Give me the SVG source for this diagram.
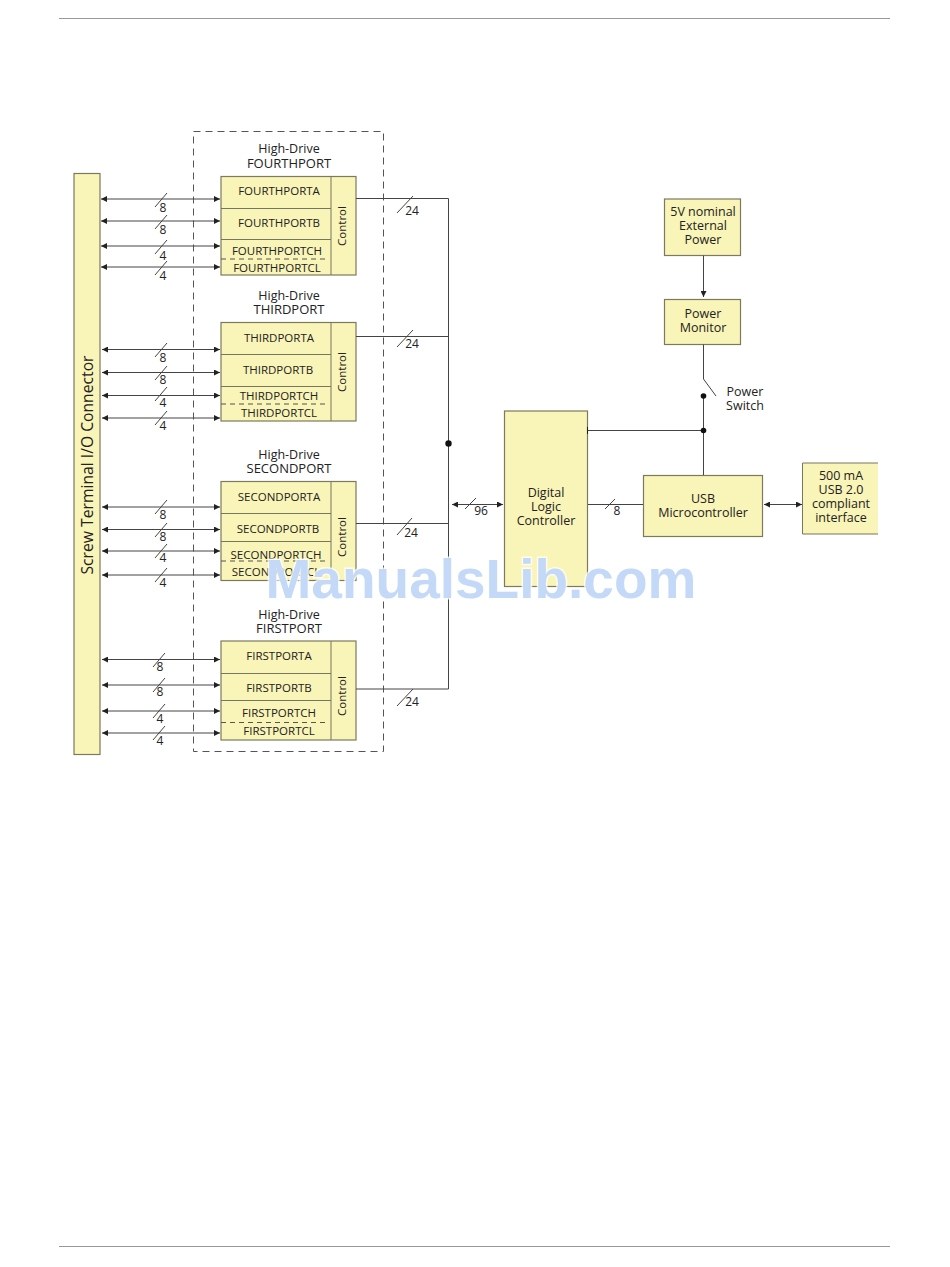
<svg xmlns="http://www.w3.org/2000/svg" width="950" height="1267" viewBox="0 0 950 1267">
<style>
text{font-family:"Open Sans","Noto Sans","Liberation Sans",sans-serif;fill:#222;text-anchor:middle}
.t{font-size:12.5px}
.h{font-size:13px}
.p{font-size:11.500px}
.n{font-size:12px}
.b{fill:#f9f4b8;stroke:#7c7a5c;stroke-width:1.2}
.l{fill:none;stroke:#77765f;stroke-width:1}
.d{fill:none;stroke:#555;stroke-width:1;stroke-dasharray:5 4}
.c{fill:none;stroke:#444;stroke-width:1}
.a{marker-start:url(#s);marker-end:url(#e)}
.rule{stroke:#999;stroke-width:1.2}
</style>
<defs>
<marker id="e" markerUnits="userSpaceOnUse" markerWidth="7" markerHeight="6" refX="6" refY="3" orient="auto"><path d="M0 0L6 3L0 6z" fill="#222"/></marker>
<marker id="s" markerUnits="userSpaceOnUse" markerWidth="7" markerHeight="6" refX="0" refY="3" orient="auto"><path d="M6 0L0 3L6 6z" fill="#222"/></marker>
</defs>
<line class="rule" x1="59" y1="18.5" x2="890" y2="18.5"/>
<line class="rule" x1="59" y1="1246.5" x2="890" y2="1246.5"/>
<rect x="193.5" y="131.5" width="190" height="620" fill="none" stroke="#555" stroke-width="1" stroke-dasharray="7 5"/>

<g id="connector"><rect class="b" x="74" y="173.5" width="26" height="581"/><text transform="translate(93 465) rotate(-90)" font-size="15.7">Screw Terminal I/O Connector</text></g>

<g id="port4">
<text class="t" x="289" y="153">High-Drive</text><text class="h" x="289" y="167.500">FOURTHPORT</text>
<rect class="b" x="221" y="176.5" width="135" height="98.5"/>
<path class="l" d="M331 176.5V275M221 208.5H331M221 239.5H331"/><path class="d" d="M221 259H328"/>
<text class="p" x="279" y="195">FOURTHPORTA</text><text class="p" x="279" y="227">FOURTHPORTB</text><text class="p" x="277" y="255">FOURTHPORTCH</text><text class="p" x="277" y="272">FOURTHPORTCL</text>
<text class="p" transform="translate(346 226) rotate(-90)">Control</text>
</g>
<g id="port3">
<text class="t" x="289" y="299.500">High-Drive</text><text class="h" x="289" y="314">THIRDPORT</text>
<rect class="b" x="221" y="322.5" width="135" height="98.5"/>
<path class="l" d="M331 322.5V421M221 354.5H331M221 386.5H331"/><path class="d" d="M221 404H328"/>
<text class="p" x="279" y="342">THIRDPORTA</text><text class="p" x="278" y="374">THIRDPORTB</text><text class="p" x="279" y="400">THIRDPORTCH</text><text class="p" x="279" y="417">THIRDPORTCL</text>
<text class="p" transform="translate(346 372) rotate(-90)">Control</text>
</g>
<g id="port2">
<text class="t" x="289" y="458.500">High-Drive</text><text class="h" x="289" y="473">SECONDPORT</text>
<rect class="b" x="221" y="481.5" width="135" height="99"/>
<path class="l" d="M331 481.5V580.5M221 513.5H331M221 541.5H331"/><path class="d" d="M221 561H328"/>
<text class="p" x="279" y="501">SECONDPORTA</text><text class="p" x="278" y="533">SECONDPORTB</text><text class="p" x="276" y="559">SECONDPORTCH</text><text class="p" x="276" y="575.500">SECONDPORTCL</text>
<text class="p" transform="translate(346 537) rotate(-90)">Control</text>
</g>
<g id="port1">
<text class="t" x="289" y="618.500">High-Drive</text><text class="h" x="289" y="632.500">FIRSTPORT</text>
<rect class="b" x="221" y="641" width="135" height="99"/>
<path class="l" d="M331 641V740M221 673.5H331M221 700.5H331"/><path class="d" d="M221 722.5H328"/>
<text class="p" x="279" y="660">FIRSTPORTA</text><text class="p" x="279" y="692">FIRSTPORTB</text><text class="p" x="279" y="717">FIRSTPORTCH</text><text class="p" x="279" y="735">FIRSTPORTCL</text>
<text class="p" transform="translate(346 696) rotate(-90)">Control</text>
</g>

<g id="dlc"><rect class="b" x="504.5" y="411" width="83" height="175.5"/><text class="t" x="546" y="497">Digital</text><text class="t" x="546" y="511">Logic</text><text class="t" x="546" y="525">Controller</text></g>
<g id="ext"><rect class="b" x="664.5" y="199" width="76" height="56.5"/><text class="t" x="703" y="216">5V nominal</text><text class="t" x="703" y="230">External</text><text class="t" x="703" y="244">Power</text></g>
<g id="mon"><rect class="b" x="664.5" y="299.5" width="76" height="45"/><text class="t" x="703" y="318">Power</text><text class="t" x="703" y="332">Monitor</text></g>
<g id="usb"><rect class="b" x="643.5" y="475.5" width="119" height="61"/><text class="t" x="703" y="503">USB</text><text class="t" x="703" y="517">Microcontroller</text></g>
<g id="iface"><path d="M802.500 463H878V534H802.500z" fill="#f9f4b8" stroke="none"/><path class="l" d="M878 463H802.500V534H878"/><text class="t" x="841" y="480">500 mA</text><text class="t" x="841" y="494">USB 2.0</text><text class="t" x="841" y="508">compliant</text><text class="t" x="841" y="522">interface</text></g>

<g id="connectors">
<path class="c a" d="M101 199H220"/><path class="c a" d="M101 221H220"/><path class="c a" d="M101 246H220"/><path class="c a" d="M101 267H220"/>
<path class="c a" d="M102 349.500H220"/><path class="c a" d="M102 372.500H220"/><path class="c a" d="M102 395.500H220"/><path class="c a" d="M102 418H220"/>
<path class="c a" d="M102 507H220"/><path class="c a" d="M102 529.500H220"/><path class="c a" d="M102 551H220"/><path class="c a" d="M102 575H220"/>
<path class="c a" d="M102 659.500H220"/><path class="c a" d="M102 685H220"/><path class="c a" d="M102 711H220"/><path class="c a" d="M102 733H220"/>
<path class="c" d="M155 207L167 193M155 229L167 215M155 254L167 240M155 275L167 261M155 357L167 343M155 380L167 366M155 401L167 387M155 425L167 411M155 514L167 500M155 537L167 523M155 558L167 544M155 582L167 568M153 667L165 653M153 692L165 678M153 718L165 704M153 740L165 726"/>
<path class="c" d="M356 198.500H448.500V689H356M356 336.500H448.500M356 523.500H448.500"/>
<path class="c" d="M397 213L413 196M397 347L413 330M397 535L412 518M397 706L413 689"/>
<circle cx="448.500" cy="443.500" r="3.200" fill="#111"/>
<path class="c a" d="M452 504.500H503"/><path class="c" d="M465 509L476 498"/>
<path class="c" d="M588 504.500H643"/><path class="c" d="M605 509L615 499"/>
<path class="c a" d="M764 504.500H802"/>
<path class="c" d="M703.500 255.500V297" marker-end="url(#e)"/>
<path class="c" d="M703.500 344.500V379L716 396M703.500 396V475M588 430.500H703.500"/>
<path d="M587.500 427V434" stroke="#222" fill="none"/>
<circle cx="703.500" cy="396" r="2.800" fill="#111"/><circle cx="703.500" cy="430.500" r="2.800" fill="#111"/>
</g>
<g id="labels">
<text class="n" x="163" y="212">8</text><text class="n" x="163" y="234">8</text><text class="n" x="163" y="260">4</text><text class="n" x="163" y="280">4</text>
<text class="n" x="163" y="362">8</text><text class="n" x="163" y="384">8</text><text class="n" x="163" y="407">4</text><text class="n" x="163" y="430">4</text>
<text class="n" x="163" y="519">8</text><text class="n" x="163" y="541">8</text><text class="n" x="163" y="562">4</text><text class="n" x="163" y="587">4</text>
<text class="n" x="160" y="671">8</text><text class="n" x="160" y="696">8</text><text class="n" x="160" y="723">4</text><text class="n" x="160" y="745">4</text>
<text class="n" x="412" y="215">24</text><text class="n" x="412" y="348">24</text><text class="n" x="411" y="537">24</text><text class="n" x="412" y="706">24</text>
<text class="n" x="481" y="515">96</text><text class="n" x="617" y="515">8</text>
<text class="t" x="745" y="396">Power</text><text class="t" x="745" y="410">Switch</text>
</g>
<text x="481" y="598" style="font-family:'Liberation Sans',sans-serif;font-weight:bold;font-size:55px;fill:#c3d9f7;stroke:#fff;stroke-opacity:.75;stroke-width:3;paint-order:stroke">ManualsLib.com</text>
</svg>
